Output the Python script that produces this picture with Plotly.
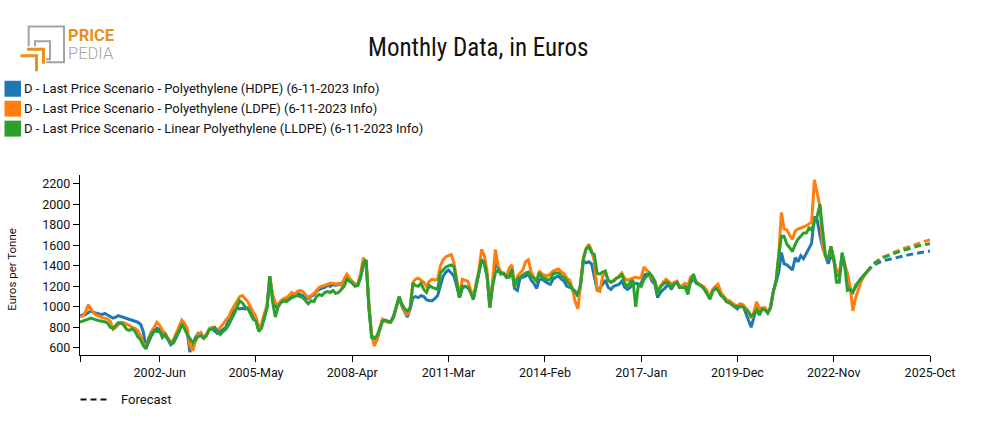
import plotly.graph_objects as go
import pandas as pd

# ---------------- data (Euros per Tonne, monthly from 2000-01) ----------------
hdpe_hist = [
    915, 920, 925, 945, 960, 945, 935, 930, 925, 935, 920, 905,
    890, 900, 915, 905, 895, 885, 880, 870, 860, 850, 830, 760,
    600, 660, 720, 760, 790, 780, 750, 720, 680, 630, 650, 700,
    760, 830, 800, 760, 560, 620, 700, 740, 720, 700, 730, 780,
    790, 760, 740, 760, 780, 800, 860, 920, 960, 990, 980, 985,
    980, 990, 960, 900, 870, 770, 800, 900, 1000, 1300, 1100, 1000,
    1010, 1050, 1070, 1060, 1080, 1100, 1120, 1140, 1120, 1110, 1090, 1080,
    1100, 1120, 1150, 1170, 1180, 1190, 1210, 1200, 1220, 1210, 1220, 1230,
    1240, 1290, 1270, 1240, 1220, 1210, 1290, 1400, 1450, 1000, 720, 690,
    690, 780, 870, 860, 850, 860, 910, 1000, 1090, 1010, 950, 900,
    980, 1090, 1100, 1090, 1110, 1100, 1070, 1060, 1060, 1080, 1110, 1200,
    1300, 1340, 1360, 1330, 1300, 1200, 1090, 1180, 1200, 1190, 1150, 1080,
    1200, 1330, 1450, 1420, 1300, 1000, 1200, 1430, 1380, 1340, 1320, 1290,
    1330, 1350, 1180, 1160, 1280, 1290, 1300, 1320, 1260, 1230, 1180, 1270,
    1270, 1250, 1230, 1220, 1270, 1290, 1300, 1270, 1250, 1200, 1190, 1180,
    1150, 1100, 1200, 1450, 1430, 1440, 1420, 1300, 1170, 1180, 1220, 1260,
    1190, 1170, 1200, 1210, 1220, 1250, 1190, 1170, 1190, 1230, 1230, 1220,
    1230, 1310, 1320, 1310, 1250, 1220, 1090, 1140, 1170, 1190, 1220, 1170,
    1230, 1240, 1190, 1200, 1210, 1180, 1240, 1270, 1230, 1220, 1200, 1180,
    1130, 1090, 1160, 1190, 1180, 1120, 1100, 1060, 1050, 1020, 1000, 980,
    1020, 1010, 940, 880, 800, 900, 990, 960, 970, 980, 940, 990,
    1150, 1240, 1330, 1530, 1420, 1410, 1380, 1360, 1480, 1440, 1500, 1470,
    1520, 1580, 1620, 1880, 1850, 1700, 1580, 1500, 1420, 1500, 1460, 1350,
    1290, 1480, 1400, 1280, 1170, 1150, 1200, 1240, 1280, 1310, 1340,
]
ldpe_hist = [
    905, 910, 950, 1020, 980, 940, 920, 905, 895, 890, 880, 860,
    780, 800, 830, 850, 845, 830, 820, 800, 790, 770, 720, 640,
    620, 700, 760, 800, 850, 820, 770, 740, 700, 650, 680, 740,
    800, 870, 840, 790, 620, 570, 660, 730, 750, 700, 720, 790,
    800, 790, 770, 800, 830, 870, 900, 960, 1010, 1060, 1100, 1110,
    1080, 1050, 1000, 950, 900, 800, 830, 930, 1020, 1290, 1120, 1040,
    1020, 1060, 1080, 1090, 1110, 1140, 1120, 1150, 1160, 1150, 1120, 1090,
    1110, 1130, 1160, 1190, 1200, 1210, 1220, 1230, 1230, 1220, 1230, 1210,
    1270, 1320, 1280, 1250, 1220, 1230, 1320, 1480, 1420, 1050, 730, 620,
    680, 800, 880, 860, 850, 850, 900, 1000, 1100, 1020, 960, 920,
    990, 1240, 1270, 1280, 1260, 1240, 1200, 1250, 1270, 1260, 1270, 1400,
    1460, 1490, 1500, 1510, 1430, 1280, 1100, 1270, 1260, 1250, 1170, 1080,
    1230, 1360, 1560, 1500, 1350, 1000, 1250, 1560, 1400, 1330, 1320, 1300,
    1380, 1410, 1200, 1300, 1330, 1360, 1440, 1460, 1340, 1290, 1260, 1350,
    1320, 1310, 1300, 1320, 1350, 1360, 1370, 1340, 1320, 1280, 1260, 1180,
    1050, 980, 1200, 1480, 1570, 1610, 1550, 1450, 1160, 1150, 1300, 1330,
    1260, 1240, 1260, 1280, 1300, 1330, 1280, 1260, 1270, 1280, 1290, 1280,
    1290, 1390, 1360, 1330, 1280, 1250, 1150, 1200, 1240, 1270, 1250, 1220,
    1240, 1250, 1200, 1210, 1230, 1210, 1290, 1280, 1240, 1220, 1210, 1190,
    1150, 1090, 1170, 1200, 1220, 1140, 1110, 1070, 1060, 1040, 1020, 1010,
    1030, 1020, 990, 960, 890, 950, 1050, 980, 990, 990, 950, 1000,
    1150, 1260, 1500, 1920, 1760, 1750, 1700, 1660, 1740, 1760, 1770, 1780,
    1790, 1810, 1830, 2240, 2100, 1980, 1590, 1500, 1470, 1590, 1460, 1330,
    1330, 1500, 1420, 1330, 1200, 960, 1090, 1180, 1250, 1300, 1340,
]
lldpe_hist = [
    850, 860, 870, 880, 890, 880, 870, 865, 860, 855, 840, 800,
    790, 820, 845, 840, 820, 780, 770, 785, 760, 710, 680, 620,
    590, 690, 740, 770, 760, 760, 700, 730, 680, 640, 660, 720,
    760, 830, 790, 730, 690, 650, 680, 710, 720, 690, 720, 780,
    780, 800, 760, 730, 760, 780, 820, 870, 930, 990, 1060, 1040,
    1000, 980, 930, 880, 860, 760, 790, 880, 990, 1300, 1050, 900,
    1000, 1040, 1060, 1050, 1070, 1090, 1100, 1110, 1100, 1090, 1060, 1030,
    1060, 1050, 1100, 1120, 1110, 1140, 1150, 1140, 1160, 1130, 1140, 1170,
    1200, 1270, 1250, 1230, 1200, 1210, 1290, 1420, 1460, 1000, 700, 690,
    720, 790, 860, 870, 860, 850, 900, 1000, 1100, 1030, 980, 960,
    990, 1230, 1210, 1200, 1230, 1170, 1140, 1210, 1190, 1180, 1170, 1330,
    1360, 1390, 1400, 1410, 1390, 1250, 1090, 1200, 1200, 1190, 1140, 1070,
    1200, 1330, 1460, 1430, 1300, 990, 1200, 1330, 1360, 1320, 1330, 1290,
    1290, 1370, 1190, 1270, 1290, 1310, 1330, 1340, 1300, 1280, 1250, 1330,
    1290, 1280, 1260, 1270, 1320, 1330, 1330, 1300, 1290, 1250, 1220, 1170,
    1140, 1130, 1220, 1460, 1560, 1590, 1530, 1510, 1330, 1320, 1340, 1350,
    1260, 1240, 1250, 1280, 1290, 1320, 1230, 1200, 1240, 1260, 1000, 1220,
    1200, 1270, 1300, 1330, 1300, 1250, 1120, 1200, 1220, 1240, 1230, 1190,
    1220, 1240, 1190, 1190, 1190, 1120, 1250, 1320, 1240, 1220, 1200, 1170,
    1120, 1075, 1150, 1180, 1160, 1110, 1090, 1050, 1040, 1020, 1000, 1000,
    1000, 1000, 970, 950, 910, 930, 970, 920, 980, 970, 940, 990,
    1150, 1250, 1490, 1690, 1690, 1610, 1580, 1540, 1610, 1660, 1690, 1720,
    1720, 1770, 1750, 1830, 1880, 2000, 1750, 1500, 1460, 1590, 1470, 1240,
    1240, 1530, 1420, 1160, 1170, 1140, 1210, 1240, 1280, 1310, 1340,
]
# forecast from 2023-11 to 2025-10
hdpe_fc = [1340, 1370, 1395, 1415, 1430, 1440, 1450, 1457, 1464, 1470, 1477, 1483,
           1489, 1495, 1500, 1506, 1512, 1517, 1522, 1527, 1532, 1536, 1540, 1545]
ldpe_fc = [1340, 1375, 1405, 1430, 1452, 1470, 1485, 1498, 1510, 1522, 1533, 1544,
           1555, 1565, 1575, 1585, 1594, 1603, 1612, 1621, 1630, 1639, 1647, 1655]
lldpe_fc = [1340, 1375, 1405, 1430, 1450, 1466, 1480, 1492, 1503, 1513, 1523, 1532,
            1541, 1550, 1558, 1566, 1574, 1582, 1589, 1596, 1603, 1609, 1612, 1615]

series_names = [
    "D - Last Price Scenario - Polyethylene (HDPE) (6-11-2023 Info)",
    "D - Last Price Scenario - Polyethylene (LDPE) (6-11-2023 Info)",
    "D - Last Price Scenario - Linear Polyethylene (LLDPE) (6-11-2023 Info)",
]
series_colors = ["#1f77b4", "#ff7f0e", "#2ca02c"]

x_tick_dates = ["2000-01-01", "2002-06-01", "2005-05-01", "2008-04-01", "2011-03-01",
                "2014-02-01", "2017-01-01", "2019-12-01", "2022-11-01", "2025-10-01"]
x_tick_labels = ["", "2002-Jun", "2005-May", "2008-Apr", "2011-Mar",
                 "2014-Feb", "2017-Jan", "2019-Dec", "2022-Nov", "2025-Oct"]
y_tick_vals = [600, 800, 1000, 1200, 1400, 1600, 1800, 2000, 2200]

hist_dates = pd.date_range("2000-01-01", periods=len(hdpe_hist), freq="MS")
fc_dates = pd.date_range("2023-11-01", periods=len(hdpe_fc), freq="MS")

# ---------------- figure ----------------
W, H = 985, 430
PL, PR, PT, PB = 80, 930, 175, 355.5   # plot area in window pixels
L, R, T, B = PL, W - PR, PT, H - PB


def px(xp):
    return (xp - PL) / (PR - PL)


def py(yp):
    return (PB - yp) / (PB - PT)


fig = go.Figure()
hist = [hdpe_hist, ldpe_hist, lldpe_hist]
fc = [hdpe_fc, ldpe_fc, lldpe_fc]
for vals, col, nm in zip(hist, series_colors, series_names):
    fig.add_trace(go.Scatter(x=hist_dates, y=vals, mode="lines", name=nm,
                             line=dict(color=col, width=3), showlegend=False))
for vals, col, nm in zip(fc, series_colors, series_names):
    fig.add_trace(go.Scatter(x=fc_dates, y=vals, mode="lines", name=nm + " forecast",
                             line=dict(color=col, width=3, dash="7px,4px"), showlegend=False))

FONT = "Roboto, Arial, sans-serif"
shapes = []
annos = []

# title
annos.append(dict(x=px(478), y=py(47), xref="paper", yref="paper", xanchor="center", yanchor="middle",
                  text="Monthly Data, in Euros", showarrow=False,
                  font=dict(family="Roboto Condensed, Liberation Sans Narrow, Arial Narrow, Roboto", size=25, color="#111")))

# y axis title
annos.append(dict(x=px(12), y=py(270), xref="paper", yref="paper", xanchor="center", yanchor="middle",
                  text="Euros per Tonne", textangle=-90, showarrow=False,
                  font=dict(family=FONT, size=11.5, color="#111")))

# legend (squares + text)
for i, (nm, col) in enumerate(zip(series_names, series_colors)):
    cy = 88.5 + 20 * i
    shapes.append(dict(type="rect", xref="paper", yref="paper", x0=px(4.5), x1=px(21), y0=py(cy - 8), y1=py(cy + 8),
                       fillcolor=col, line=dict(width=0)))
    annos.append(dict(x=px(22), y=py(cy), xref="paper", yref="paper", xanchor="left", yanchor="middle",
                      text=nm, showarrow=False, font=dict(family=FONT, size=13, color="#111")))

# forecast key
shapes.append(dict(type="line", xref="paper", yref="paper", x0=px(80.5), x1=px(110), y0=py(400), y1=py(400),
                   line=dict(color="#111", width=2, dash="6px,4px")))
annos.append(dict(x=px(119), y=py(400), xref="paper", yref="paper", xanchor="left", yanchor="middle",
                  text="Forecast", showarrow=False, font=dict(family=FONT, size=13, color="#111")))

# logo
GRAY = "#a3a3a3"
ORANGE = "#e8901a"


def path(points):
    return "M " + " L ".join(f"{px(a)},{py(b)}" for a, b in points)


shapes.append(dict(type="path", xref="paper", yref="paper",
                   path=path([(46, 62), (64, 62), (64, 26), (28.7, 26), (28.7, 46)]),
                   line=dict(color=GRAY, width=2)))
shapes.append(dict(type="path", xref="paper", yref="paper",
                   path=path([(35, 46), (35, 41), (50, 41), (50, 59), (46, 59)]),
                   line=dict(color=GRAY, width=2)))
shapes.append(dict(type="path", xref="paper", yref="paper",
                   path=path([(27, 49), (43.5, 49), (43.5, 63.5)]),
                   line=dict(color=ORANGE, width=3)))
shapes.append(dict(type="path", xref="paper", yref="paper",
                   path=path([(20.5, 55.5), (36.5, 55.5), (36.5, 71)]),
                   line=dict(color=ORANGE, width=3)))
annos.append(dict(x=px(67), y=py(35), xref="paper", yref="paper", xanchor="left", yanchor="middle",
                  text="<b>PRICE</b>", showarrow=False, borderpad=0,
                  font=dict(family=FONT, size=16.5, color=ORANGE)))
annos.append(dict(x=px(67), y=py(53.5), xref="paper", yref="paper", xanchor="left", yanchor="middle",
                  text="PEDIA", showarrow=False, borderpad=0,
                  font=dict(family=FONT, size=16.5, color=GRAY, weight=300)))

fig.update_layout(
    width=W, height=H,
    margin=dict(l=L, r=R, t=T, b=B, pad=0),
    paper_bgcolor="white", plot_bgcolor="white",
    showlegend=False,
    shapes=shapes, annotations=annos,
    font=dict(family=FONT, size=12.5, color="#111"),
    xaxis=dict(type="date", range=["2000-01-01", "2025-10-01"],
               tickmode="array", tickvals=x_tick_dates, ticktext=x_tick_labels,
               showgrid=False, zeroline=False, showline=True, linecolor="#000", linewidth=1.2,
               ticks="outside", ticklen=6, tickcolor="#000", tickwidth=1,
               tickfont=dict(family=FONT, size=12.5, color="#111")),
    yaxis=dict(range=[530, 2287], tickmode="array", tickvals=y_tick_vals,
               showgrid=False, zeroline=False, showline=True, linecolor="#000", linewidth=1.2,
               ticks="outside", ticklen=6, tickcolor="#000", tickwidth=1,
               tickfont=dict(family=FONT, size=12.5, color="#111")),
)

# remove the default 8px page margin so the figure fills the window exactly
fig.write_html("out.html", config={"displayModeBar": False},
               post_script="document.body.style.margin='0px';")
